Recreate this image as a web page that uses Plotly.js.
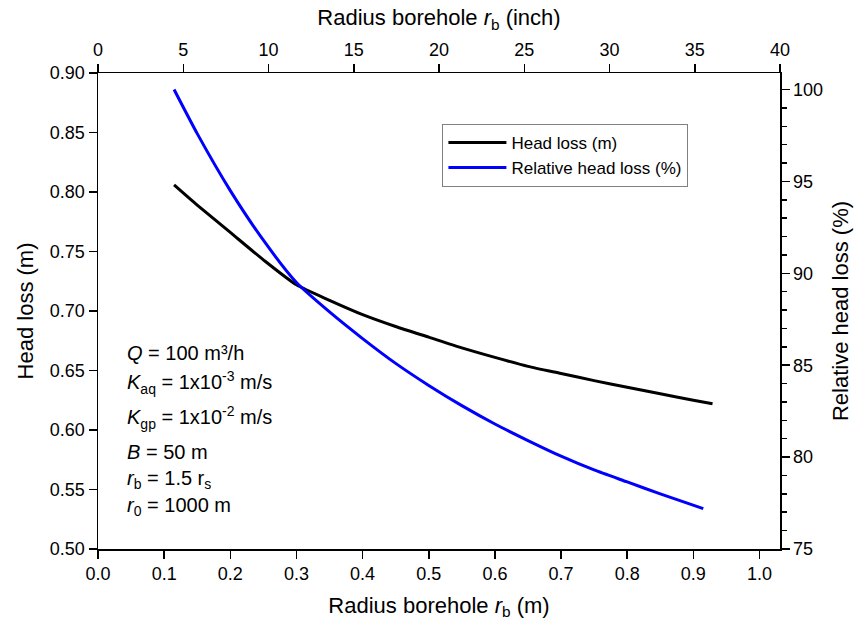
<!DOCTYPE html>
<html><head><meta charset="utf-8">
<script src="https://cdn.plot.ly/plotly-3.0.1.min.js"></script>
<style>html,body{margin:0;padding:0;background:#fff}</style>
</head><body>
<div id="chart" style="width:862px;height:626px"></div>
<script>
// Head loss (m) vs borehole radius (m)
const headX = [0.115, 0.15, 0.2, 0.25, 0.3, 0.35, 0.4, 0.45, 0.5, 0.55, 0.6, 0.65, 0.7, 0.75, 0.8, 0.85, 0.9, 0.929];
const headLoss = [0.806, 0.789, 0.766, 0.743, 0.722, 0.709, 0.697, 0.687, 0.678, 0.669, 0.661, 0.6535, 0.6475, 0.6415, 0.636, 0.6305, 0.625, 0.622];
// Relative head loss (%) vs borehole radius (m)
const relX = [0.115, 0.15, 0.2, 0.25, 0.3, 0.35, 0.4, 0.45, 0.5, 0.55, 0.6, 0.65, 0.7, 0.75, 0.8, 0.85, 0.915];
const relLoss = [100.0, 97.6, 94.5, 91.8, 89.5, 87.9, 86.45, 85.1, 83.9, 82.8, 81.8, 80.9, 80.05, 79.3, 78.65, 78.0, 77.2];
// Top axis: borehole radius in inches
const inchRange = [0, 40];
const seriesNames = ['Head loss (m)', 'Relative head loss (%)'];
const paramLines = [
  '<i>Q</i> = 100 m³/h',
  '<i>K</i><sub>aq</sub> = 1x10<sup>-3</sup> m/s',
  '<i>K</i><sub>gp</sub> = 1x10<sup>-2</sup> m/s',
  '<i>B</i> = 50 m',
  '<i>r</i><sub>b</sub> = 1.5 r<sub>s</sub>',
  '<i>r</i><sub>0</sub> = 1000 m'
];
const paramY = [0.412, 0.349, 0.276, 0.204, 0.145, 0.089];

const FONT = 'Liberation Sans, Arial, sans-serif';
const axisCommon = {
  showline: true, linecolor: 'black', linewidth: 1.5,
  ticks: 'outside', ticklen: 8, tickwidth: 1.5, tickcolor: 'black',
  showgrid: false, zeroline: false,
  tickfont: {family: FONT, size: 18, color: 'black'}
};

const traces = [
  {x: headX, y: headLoss, name: seriesNames[0], mode: 'lines',
   line: {color: 'black', width: 3, shape: 'spline', smoothing: 0.6}, xaxis: 'x', yaxis: 'y'},
  {x: relX, y: relLoss, name: seriesNames[1], mode: 'lines',
   line: {color: '#0000ff', width: 3, shape: 'spline', smoothing: 0.6}, xaxis: 'x', yaxis: 'y2'},
  // empty carrier trace so the top (inch) axis gets drawn
  {x: [], y: [], mode: 'lines', xaxis: 'x2', yaxis: 'y', showlegend: false, hoverinfo: 'skip'}
];

const layout = {
  width: 862, height: 626,
  margin: {l: 98, r: 82, t: 73, b: 77},
  paper_bgcolor: 'white', plot_bgcolor: 'white',
  font: {family: FONT, color: 'black'},
  showlegend: true,
  legend: {x: 0.505, y: 0.893, xanchor: 'left', yanchor: 'top',
    bordercolor: '#808080', borderwidth: 1, bgcolor: 'white',
    font: {family: FONT, size: 17, color: 'black'}, tracegroupgap: 0, itemwidth: 58},
  xaxis: Object.assign({}, axisCommon, {
    range: [0, 1.031], dtick: 0.1, tick0: 0, tickformat: '.1f',
    title: {text: 'Radius borehole <i>r</i><sub>b</sub> (m)', font: {family: FONT, size: 22}, standoff: 14}
  }),
  xaxis2: Object.assign({}, axisCommon, {
    overlaying: 'x', side: 'top', anchor: 'y',
    range: inchRange, dtick: 5, tick0: 0,
    title: {text: 'Radius borehole <i>r</i><sub>b</sub> (inch)', font: {family: FONT, size: 22}, standoff: 8}
  }),
  yaxis: Object.assign({}, axisCommon, {
    range: [0.5, 0.9], dtick: 0.05, tick0: 0.5, tickformat: '.2f',
    title: {text: 'Head loss (m)', font: {family: FONT, size: 22}, standoff: 10}
  }),
  yaxis2: Object.assign({}, axisCommon, {
    overlaying: 'y', side: 'right', anchor: 'x',
    range: [75, 100.9], dtick: 5, tick0: 75,
    minor: {dtick: 1, ticks: 'outside', ticklen: 5, tickcolor: 'black', tickwidth: 1.5, showgrid: false},
    title: {text: 'Relative head loss (%)', font: {family: FONT, size: 22}, standoff: 10}
  }),
  annotations: paramLines.map((t, i) => ({
    text: t, xref: 'paper', yref: 'paper', x: 0.04, y: paramY[i],
    xanchor: 'left', yanchor: 'middle', showarrow: false,
    font: {family: FONT, size: 20, color: 'black'}
  }))
};

Plotly.newPlot('chart', traces, layout, {displayModeBar: false, staticPlot: true});
</script>
</body></html>
